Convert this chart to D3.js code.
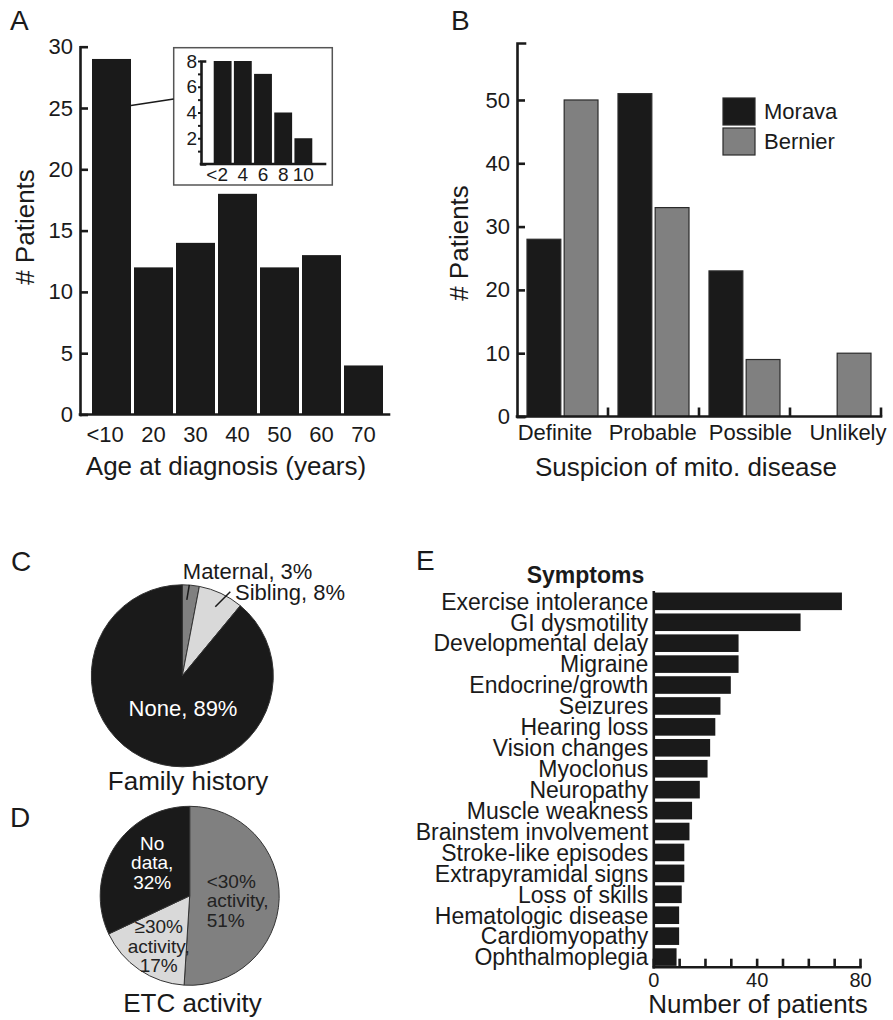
<!DOCTYPE html>
<html>
<head>
<meta charset="utf-8">
<script src="https://cdn.jsdelivr.net/npm/d3@7"></script>
<style>
  body { margin: 0; background: #fff; }
  svg { display: block; }
  svg text { fill: #1a1a1a; }
</style>
</head>
<body>
<div id="fig"></div>
<script>
// ---- data ----
const ageCats = ['<10', '20', '30', '40', '50', '60', '70'];
const ageCounts = [29, 12, 14, 18, 12, 13, 4];
const ageTicks = [0, 5, 10, 15, 20, 25, 30];

const insetCats = ['<2', '4', '6', '8', '10'];
const insetCounts = [8, 8, 7, 4, 2];
const insetTicks = [1, 2, 3, 4, 5, 6, 7, 8];

const suspicionCats = ['Definite', 'Probable', 'Possible', 'Unlikely'];
const seriesNames = ['Morava', 'Bernier'];
const moravaCounts = [28, 51, 23, 0];
const bernierCounts = [50, 33, 9, 10];
const suspicionTicks = [0, 10, 20, 30, 40, 50];

const familyLabels = ['Maternal, 3%', 'Sibling, 8%', 'None, 89%'];
const familyPct = [3, 8, 89];

const etcLabels = ['<30% activity, 51%', '≥30% activity, 17%', 'No data, 32%'];
const etcPct = [51, 17, 32];

const symptoms = ['Exercise intolerance', 'GI dysmotility', 'Developmental delay', 'Migraine',
    'Endocrine/growth', 'Seizures', 'Hearing loss', 'Vision changes', 'Myoclonus', 'Neuropathy',
    'Muscle weakness', 'Brainstem involvement', 'Stroke-like episodes', 'Extrapyramidal signs',
    'Loss of skills', 'Hematologic disease', 'Cardiomyopathy', 'Ophthalmoplegia'];
const symptomCounts = [73, 57, 33, 33, 30, 26, 24, 22, 21, 18, 15, 14, 12, 12, 11, 10, 10, 9];
const symptomTicks = [0, 10, 20, 30, 40, 50, 60, 70, 80];
const symptomLabelTicks = [0, 40, 80];

// ---- style ----
const FONT = 'Arial, "Liberation Sans", Helvetica, sans-serif';
const INK = '#1a1a1a';
const GREY = '#808080';
const LIGHT = '#d9d9d9';
const AXIS_W = 2.6;

const width = 893, height = 1020;

const svg = d3.select('#fig').append('svg')
    .attr('width', width)
    .attr('height', height)
    .attr('viewBox', `0 0 ${width} ${height}`)
    .style('font-family', FONT);

svg.append('rect').attr('width', width).attr('height', height).attr('fill', '#fff');

// helper: restyle a d3 axis group
function styleAxis(g, size) {
    g.attr('font-family', FONT).attr('font-size', size);
    g.selectAll('.domain').attr('stroke', INK).attr('stroke-width', AXIS_W).attr('stroke-linecap', 'square');
    g.selectAll('.tick line').attr('stroke', INK).attr('stroke-width', AXIS_W);
    g.selectAll('.tick text').attr('fill', INK);
}

function panelLetter(txt, x, y) {
    svg.append('text').attr('x', x).attr('y', y)
        .style('font-size', '28px').text(txt);
}

// =============== A: age at diagnosis ===============
panelLetter('A', 10, 30);

const xA = d3.scaleBand().domain(ageCats).range([90.5, 384.5])
    .paddingInner(0.0714).paddingOuter(0.0357);
const yA = d3.scaleLinear().domain([0, 30]).range([414.5, 46.7]);

svg.append('g').selectAll('rect')
    .data(ageCats)
    .enter().append('rect')
    .attr('x', d => xA(d))
    .attr('y', (d, i) => yA(ageCounts[i]))
    .attr('width', xA.bandwidth())
    .attr('height', (d, i) => yA(0) - yA(ageCounts[i]))
    .attr('fill', INK);

// x axis line (runs past the bars at both ends)
svg.append('line')
    .attr('x1', 80).attr('x2', 389).attr('y1', yA(0)).attr('y2', yA(0))
    .attr('stroke', INK).attr('stroke-width', AXIS_W).attr('stroke-linecap', 'square');

svg.append('g')
    .attr('transform', `translate(0,${yA(0)})`)
    .call(d3.axisBottom(xA).tickSize(0).tickPadding(12))
    .call(g => g.select('.domain').remove())
    .call(g => styleAxis(g, 22))
    .call(g => g.selectAll('.tick text').attr('dx', d => d.startsWith('<') ? '-0.29em' : 0));

svg.append('g')
    .attr('transform', 'translate(80,0)')
    .call(d3.axisLeft(yA).tickValues(ageTicks).tickSizeInner(-8).tickSizeOuter(0).tickPadding(7))
    .call(g => styleAxis(g, 22));

svg.append('text')
    .attr('transform', 'translate(34,227) rotate(-90)')
    .style('text-anchor', 'middle').style('font-size', '26px')
    .text('# Patients');

svg.append('text')
    .attr('x', 226).attr('y', 475)
    .style('text-anchor', 'middle').style('font-size', '26px')
    .text('Age at diagnosis (years)');

// inset: under-10 breakdown
const box = { x: 173.7, y: 47.7, w: 158.6, h: 137.3 };
svg.append('rect')
    .attr('x', box.x).attr('y', box.y).attr('width', box.w).attr('height', box.h)
    .attr('fill', '#fff').attr('stroke', '#555').attr('stroke-width', 1.5);

svg.append('line')
    .attr('x1', xA('<10') + xA.bandwidth()).attr('y1', yA(25.2))
    .attr('x2', box.x).attr('y2', 99)
    .attr('stroke', INK).attr('stroke-width', 1.6);

const xIn = d3.scaleBand().domain(insetCats).range([212.5, 313.5])
    .paddingInner(0.115).paddingOuter(0.06);
const yIn = d3.scaleLinear().domain([0, 8]).range([164, 61]);

svg.append('g').selectAll('rect')
    .data(insetCats)
    .enter().append('rect')
    .attr('x', d => xIn(d))
    .attr('y', (d, i) => yIn(insetCounts[i]))
    .attr('width', xIn.bandwidth())
    .attr('height', (d, i) => yIn(0) - yIn(insetCounts[i]))
    .attr('fill', INK);

svg.append('line')
    .attr('x1', 201).attr('x2', 325).attr('y1', yIn(0)).attr('y2', yIn(0))
    .attr('stroke', INK).attr('stroke-width', AXIS_W).attr('stroke-linecap', 'square');

svg.append('g')
    .attr('transform', `translate(0,${yIn(0)})`)
    .call(d3.axisBottom(xIn).tickSize(0).tickPadding(4))
    .call(g => g.select('.domain').remove())
    .call(g => styleAxis(g, 19))
    .call(g => g.selectAll('.tick text').attr('dx', d => d.startsWith('<') ? '-0.29em' : 0));

svg.append('g')
    .attr('transform', 'translate(201,0)')
    .call(d3.axisLeft(yIn).tickValues(insetTicks).tickSizeInner(3).tickSizeOuter(-4).tickPadding(1)
        .tickFormat(d => d % 2 === 0 ? d : ''))
    .call(g => styleAxis(g, 19))
    .call(g => g.selectAll('.tick line').attr('stroke-width', 2));

// =============== B: suspicion of mito disease ===============
panelLetter('B', 451, 30);

const x0 = d3.scaleBand().domain(suspicionCats).range([517, 881]);
const x1 = d3.scaleBand().domain(seriesNames).range([10, 81]).paddingInner(0.09);
const yB = d3.scaleLinear().domain([0, 59]).range([416.5, 43]);
const colorB = d3.scaleOrdinal().domain(seriesNames).range([INK, GREY]);

const groupedB = suspicionCats.map((c, i) => ({
    cat: c,
    values: [
        { key: 'Morava', value: moravaCounts[i] },
        { key: 'Bernier', value: bernierCounts[i] }
    ]
}));

svg.append('g').selectAll('g')
    .data(groupedB)
    .enter().append('g')
    .attr('transform', d => `translate(${x0(d.cat)},0)`)
    .selectAll('rect')
    .data(d => d.values.filter(v => v.value > 0))
    .enter().append('rect')
    .attr('x', d => x1(d.key))
    .attr('y', d => yB(d.value))
    .attr('width', x1.bandwidth())
    .attr('height', d => yB(0) - yB(d.value))
    .attr('fill', d => colorB(d.key))
    .attr('stroke', '#2a2a2a')
    .attr('stroke-width', 1.2);

// x axis with up ticks at group boundaries
svg.append('line')
    .attr('x1', 517).attr('x2', 881).attr('y1', yB(0)).attr('y2', yB(0))
    .attr('stroke', INK).attr('stroke-width', AXIS_W).attr('stroke-linecap', 'square');
svg.append('g').selectAll('line')
    .data(suspicionCats)
    .enter().append('line')
    .attr('x1', d => x0(d) + x0.bandwidth())
    .attr('x2', d => x0(d) + x0.bandwidth())
    .attr('y1', yB(0)).attr('y2', yB(0) - 9)
    .attr('stroke', INK).attr('stroke-width', AXIS_W);

const labelB = d3.scalePoint().domain(suspicionCats).range([555, 848]);
svg.append('g').selectAll('text')
    .data(suspicionCats)
    .enter().append('text')
    .attr('x', d => labelB(d))
    .attr('y', 440)
    .style('text-anchor', 'middle').style('font-size', '22px')
    .text(d => d);

svg.append('g')
    .attr('transform', 'translate(517,0)')
    .call(d3.axisLeft(yB).tickValues(suspicionTicks).tickSizeInner(-8).tickSizeOuter(-8).tickPadding(7))
    .call(g => styleAxis(g, 22));

svg.append('text')
    .attr('transform', 'translate(468,243) rotate(-90)')
    .style('text-anchor', 'middle').style('font-size', '26px')
    .text('# Patients');

svg.append('text')
    .attr('x', 686).attr('y', 476)
    .style('text-anchor', 'middle').style('font-size', '26px')
    .text('Suspicion of mito. disease');

// legend
const legend = svg.append('g').attr('transform', 'translate(723,98)');
const legItems = legend.selectAll('g')
    .data(seriesNames)
    .enter().append('g')
    .attr('transform', (d, i) => `translate(0,${i * 30})`);
legItems.append('rect')
    .attr('width', 32).attr('height', 27)
    .attr('fill', d => colorB(d)).attr('stroke', '#2a2a2a').attr('stroke-width', 1.2);
legItems.append('text')
    .attr('x', 41).attr('y', 21)
    .style('font-size', '22px')
    .text(d => d);

// =============== C: family history ===============
panelLetter('C', 11, 571);

const pie = d3.pie().sort(null).value(d => d);
const cx = 182.3, cy = 675.8, rC = 91;
const arcC = d3.arc().innerRadius(0).outerRadius(rC);
const colorC = d3.scaleOrdinal().domain(familyLabels).range([GREY, LIGHT, INK]);

const gC = svg.append('g').attr('transform', `translate(${cx},${cy})`);
gC.selectAll('path')
    .data(pie(familyPct))
    .enter().append('path')
    .attr('d', arcC)
    .attr('fill', (d, i) => colorC(familyLabels[i]))
    .attr('stroke', '#333').attr('stroke-width', 1);

// outside labels with short leaders
gC.append('line').attr('x1', 7).attr('y1', -91).attr('x2', 4.5).attr('y2', -76)
    .attr('stroke', INK).attr('stroke-width', 1.5);
gC.append('text').attr('x', 0.5).attr('y', -96.5)
    .style('font-size', '22px').text(familyLabels[0]);
gC.append('line').attr('x1', 48).attr('y1', -84).attr('x2', 33).attr('y2', -69)
    .attr('stroke', INK).attr('stroke-width', 1.5);
gC.append('text').attr('x', 52.7).attr('y', -76)
    .style('font-size', '22px').text(familyLabels[1]);
gC.append('text').attr('x', 0.7).attr('y', 40)
    .style('text-anchor', 'middle').style('font-size', '22px')
    .style('fill', '#fff').text(familyLabels[2]);

svg.append('text')
    .attr('x', 188).attr('y', 790)
    .style('text-anchor', 'middle').style('font-size', '26px')
    .text('Family history');

// =============== D: ETC activity ===============
panelLetter('D', 10, 827);

const dx = 189.7, dy = 895.8, rD = 89.5;
const arcD = d3.arc().innerRadius(0).outerRadius(rD);
const colorD = d3.scaleOrdinal().domain(etcLabels).range([GREY, LIGHT, INK]);

const gD = svg.append('g').attr('transform', `translate(${dx},${dy})`);
gD.selectAll('path')
    .data(pie(etcPct))
    .enter().append('path')
    .attr('d', arcD)
    .attr('fill', (d, i) => colorD(etcLabels[i]))
    .attr('stroke', '#333').attr('stroke-width', 1);

// multi-line slice labels
function multiLine(g, lines, x, y, anchor, fill) {
    const t = g.append('text')
        .attr('x', x).attr('y', y)
        .style('text-anchor', anchor).style('font-size', '19px')
        .style('fill', fill);
    lines.forEach((s, i) => {
        t.append('tspan').attr('x', x).attr('dy', i === 0 ? 0 : 19.5).text(s);
    });
}
multiLine(gD, ['<30%', 'activity,', '51%'], 17, -8, 'start', '#222');
multiLine(gD, ['≥30%', 'activity,', '17%'], -31, 37.5, 'middle', '#222');
multiLine(gD, ['No', 'data,', '32%'], -37.5, -46, 'middle', '#fff');

svg.append('text')
    .attr('x', 192.5).attr('y', 1012)
    .style('text-anchor', 'middle').style('font-size', '26px')
    .text('ETC activity');

// =============== E: symptoms ===============
panelLetter('E', 416, 570);

const xE = d3.scaleLinear().domain([0, 80]).range([653.3, 860]);
const yE = d3.scaleBand().domain(symptoms).range([591.7, 966.7])
    .paddingInner(0.16).paddingOuter(0.04);

svg.append('g').selectAll('rect')
    .data(symptoms)
    .enter().append('rect')
    .attr('x', xE(0))
    .attr('y', d => yE(d))
    .attr('width', (d, i) => xE(symptomCounts[i]) - xE(0))
    .attr('height', yE.bandwidth())
    .attr('fill', INK);

svg.append('g')
    .attr('transform', `translate(${xE(0)},0)`)
    .call(d3.axisLeft(yE).tickSize(0).tickSizeOuter(0).tickPadding(5))
    .call(g => styleAxis(g, 23))
    .call(g => g.selectAll('.tick text').attr('dy', '0.36em'));

svg.append('g')
    .attr('transform', `translate(0,${yE.range()[1]})`)
    .call(d3.axisBottom(xE).tickValues(symptomTicks).tickSizeInner(-8).tickSizeOuter(0).tickPadding(6)
        .tickFormat(d => symptomLabelTicks.includes(d) ? d : ''))
    .call(g => styleAxis(g, 20));

svg.append('text')
    .attr('x', 644.3).attr('y', 582.7)
    .style('text-anchor', 'end').style('font-size', '23px').style('font-weight', 'bold')
    .text('Symptoms');

svg.append('text')
    .attr('x', 758).attr('y', 1013)
    .style('text-anchor', 'middle').style('font-size', '26px')
    .text('Number of patients');
</script>
</body>
</html>
